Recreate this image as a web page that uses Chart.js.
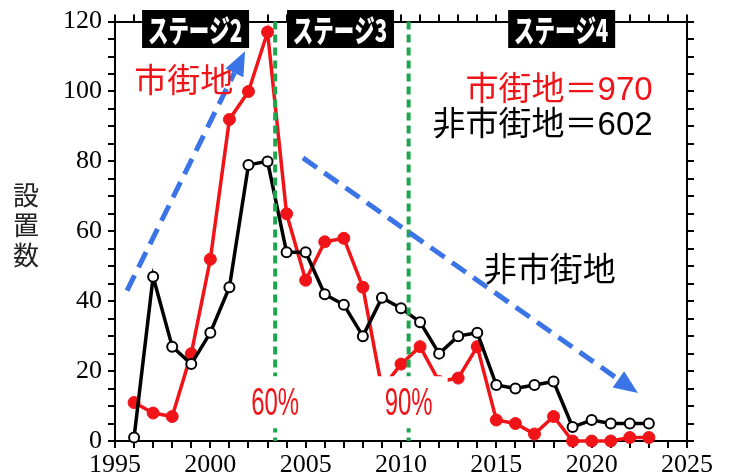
<!DOCTYPE html>
<html>
<head>
<meta charset="utf-8">
<script src="https://cdn.jsdelivr.net/npm/chart.js@4.4.1/dist/chart.umd.min.js"></script>
<style>
  html, body { margin: 0; padding: 0; background: #fff; }
  #wrap { width: 731px; height: 476px; }
</style>
</head>
<body>
<div id="wrap"><canvas id="c" width="731" height="476"></canvas></div>
<script>
// ---- data ----
const years = [1996, 1997, 1998, 1999, 2000, 2001, 2002, 2003, 2004, 2005, 2006, 2007, 2008, 2009,
               2010, 2011, 2012, 2013, 2014, 2015, 2016, 2017, 2018, 2019, 2020, 2021, 2022, 2023];
// 市街地 (urban)
const urban = [11, 8, 7, 25, 52, 92, 100, 117, 65, 46, 57, 58, 44, 15,
               22, 27, 17, 18, 27, 6, 5, 2, 7, 0, 0, 0, 1, 1];
// 非市街地 (non-urban)
const nonUrban = [1, 47, 27, 22, 31, 44, 79, 80, 54, 54, 42, 39, 30, 41,
                  38, 34, 25, 30, 31, 16, 15, 16, 17, 4, 6, 5, 5, 5];
const seriesNames = ['市街地', '非市街地'];
const xTickLabels = [1995, 2000, 2005, 2010, 2015, 2020, 2025];
const yTickLabels = [0, 20, 40, 60, 80, 100, 120];
const stageNames = ['ステージ2', 'ステージ3', 'ステージ4'];
const stageYears = [1999.2, 2006.8, 2018.4];
const boundaryYears = [2003.4, 2010.4];
const boundaryLabels = ['60%', '90%'];

// ---- annotation placement (data coordinates) ----
const arrows = [
  { from: [1995.63, 43.0], to: [2001.82, 111.5] },
  { from: [2004.86, 81.0], to: [2022.43, 13.7] }
];
const texts = [
  { t: '市街地', x: 1998.6, y: 102.6, color: '#f01418', align: 'center' },
  { t: '市街地＝970', x: 2023.2, y: 100.3, color: '#f01418', align: 'right' },
  { t: '非市街地＝602', x: 2023.2, y: 90.1, color: '#000', align: 'right' },
  { t: '非市街地', x: 2017.8, y: 48.3, color: '#000', align: 'center' }
];

const RED = '#f01418';
const BLUE = '#3b74e6';
const GREEN = '#1ea64e';
const JP = '"Liberation Sans", "Noto Sans CJK JP", sans-serif';

function condensed(ctx, text, x, y, font, color, align, sx) {
  ctx.save();
  ctx.translate(x, y);
  ctx.scale(sx, 1);
  ctx.font = font;
  ctx.fillStyle = color;
  ctx.textAlign = align;
  ctx.textBaseline = 'middle';
  ctx.fillText(text, 0, 0);
  ctx.restore();
}

const overlay = {
  id: 'overlay',
  afterDatasetsDraw(chart) {
    const ctx = chart.ctx;
    const sx = chart.scales.x, sy = chart.scales.y;
    const px = v => sx.getPixelForValue(v), py = v => sy.getPixelForValue(v);
    const area = chart.chartArea;

    // green stage boundaries
    ctx.save();
    ctx.strokeStyle = GREEN;
    ctx.lineWidth = 4;
    ctx.setLineDash([8, 5]);
    boundaryYears.forEach(yr => {
      ctx.beginPath();
      ctx.moveTo(px(yr), area.top);
      ctx.lineTo(px(yr), area.bottom);
      ctx.stroke();
    });
    ctx.restore();

    // white label boxes with 60% / 90%
    boundaryYears.forEach((yr, i) => {
      const cx = px(yr), cy = py(10.8);
      ctx.fillStyle = '#fff';
      ctx.fillRect(cx - 37, cy - 27, 76, 52);
      condensed(ctx, boundaryLabels[i], cx, cy + 1, '38px "Liberation Sans", sans-serif', RED, 'center', 0.63);
    });

    // blue dashed arrows
    arrows.forEach(a => {
      const x0 = px(a.from[0]), y0 = py(a.from[1]);
      const x1 = px(a.to[0]), y1 = py(a.to[1]);
      const ang = Math.atan2(y1 - y0, x1 - x0);
      const head = 24, half = 10;
      const bx = x1 - head * Math.cos(ang), by = y1 - head * Math.sin(ang);
      ctx.save();
      ctx.strokeStyle = BLUE;
      ctx.fillStyle = BLUE;
      ctx.lineWidth = 5;
      ctx.setLineDash([17, 9]);
      ctx.beginPath();
      ctx.moveTo(x0, y0);
      ctx.lineTo(bx, by);
      ctx.stroke();
      ctx.setLineDash([]);
      ctx.beginPath();
      ctx.moveTo(x1, y1);
      ctx.lineTo(bx + half * Math.sin(ang), by - half * Math.cos(ang));
      ctx.lineTo(bx - half * Math.sin(ang), by + half * Math.cos(ang));
      ctx.closePath();
      ctx.fill();
      ctx.restore();
    });

    // text notes
    texts.forEach(n => {
      ctx.save();
      ctx.font = '33px ' + JP;
      ctx.fillStyle = n.color;
      ctx.textAlign = n.align;
      ctx.textBaseline = 'middle';
      ctx.fillText(n.t, px(n.x), py(n.y));
      ctx.restore();
    });

    // stage boxes on the top edge
    stageNames.forEach((s, i) => {
      const cx = px(stageYears[i]);
      ctx.fillStyle = '#000';
      ctx.fillRect(cx - 53, 10, 107, 38);
      condensed(ctx, s, cx, 30, '900 31px "Noto Sans CJK JP", sans-serif', '#fff', 'center', 0.66);
    });

    // vertical y title
    ctx.save();
    ctx.font = '26px "Noto Sans CJK JP", sans-serif';
    ctx.fillStyle = '#222';
    ctx.textAlign = 'center';
    ctx.textBaseline = 'middle';
    ['設', '置', '数'].forEach((ch, i) => ctx.fillText(ch, 26, 195 + i * 30));
    ctx.restore();
  }
};

const tickFont = { family: '"Liberation Serif", serif', size: 26 };
const axisGrid = { display: true, drawOnChartArea: false, drawTicks: true, tickLength: 7, color: '#000', lineWidth: 2 };
const axisBorder = { display: true, color: '#000', width: 2 };

new Chart(document.getElementById('c'), {
  type: 'line',
  data: {
    datasets: [
      {
        label: seriesNames[1],
        data: years.map((y, i) => ({ x: y, y: nonUrban[i] })),
        borderColor: '#000',
        borderWidth: 3.5,
        pointRadius: 5,
        pointBackgroundColor: '#fff',
        pointBorderColor: '#000',
        pointBorderWidth: 2,
        tension: 0,
        clip: false,
        order: 0
      },
      {
        label: seriesNames[0],
        data: years.map((y, i) => ({ x: y, y: urban[i] })),
        borderColor: RED,
        borderWidth: 3.5,
        pointRadius: 6,
        pointBackgroundColor: RED,
        pointBorderColor: RED,
        pointBorderWidth: 1,
        tension: 0,
        clip: false,
        order: 1
      }
    ]
  },
  options: {
    responsive: false,
    animation: false,
    layout: { padding: { top: 13, right: 37, bottom: 0, left: 0 } },
    plugins: { legend: { display: false }, tooltip: { enabled: false } },
    scales: {
      x: {
        type: 'linear', position: 'bottom', min: 1995, max: 2025,
        ticks: {
          stepSize: 1, autoSkip: false, maxRotation: 0, minRotation: 0,
          color: '#000', font: tickFont, padding: 2,
          callback: v => xTickLabels.includes(v) ? String(v) : ''
        },
        grid: axisGrid, border: axisBorder,
        afterFit: s => { s.height = 35; }
      },
      xTop: {
        type: 'linear', position: 'top', min: 1995, max: 2025,
        ticks: { stepSize: 1, autoSkip: false, display: false },
        grid: axisGrid, border: axisBorder,
        afterFit: s => { s.height = 7; }
      },
      y: {
        type: 'linear', position: 'left', min: 0, max: 120,
        ticks: {
          stepSize: 5, autoSkip: false, color: '#000', font: tickFont, padding: 6,
          callback: v => yTickLabels.includes(v) ? String(v) : ''
        },
        grid: axisGrid, border: axisBorder,
        afterFit: s => { s.width = 115; }
      },
      yRight: {
        type: 'linear', position: 'right', min: 0, max: 120,
        ticks: { stepSize: 5, autoSkip: false, display: false },
        grid: axisGrid, border: axisBorder,
        afterFit: s => { s.width = 7; }
      }
    }
  },
  plugins: [overlay]
});
</script>
</body>
</html>
